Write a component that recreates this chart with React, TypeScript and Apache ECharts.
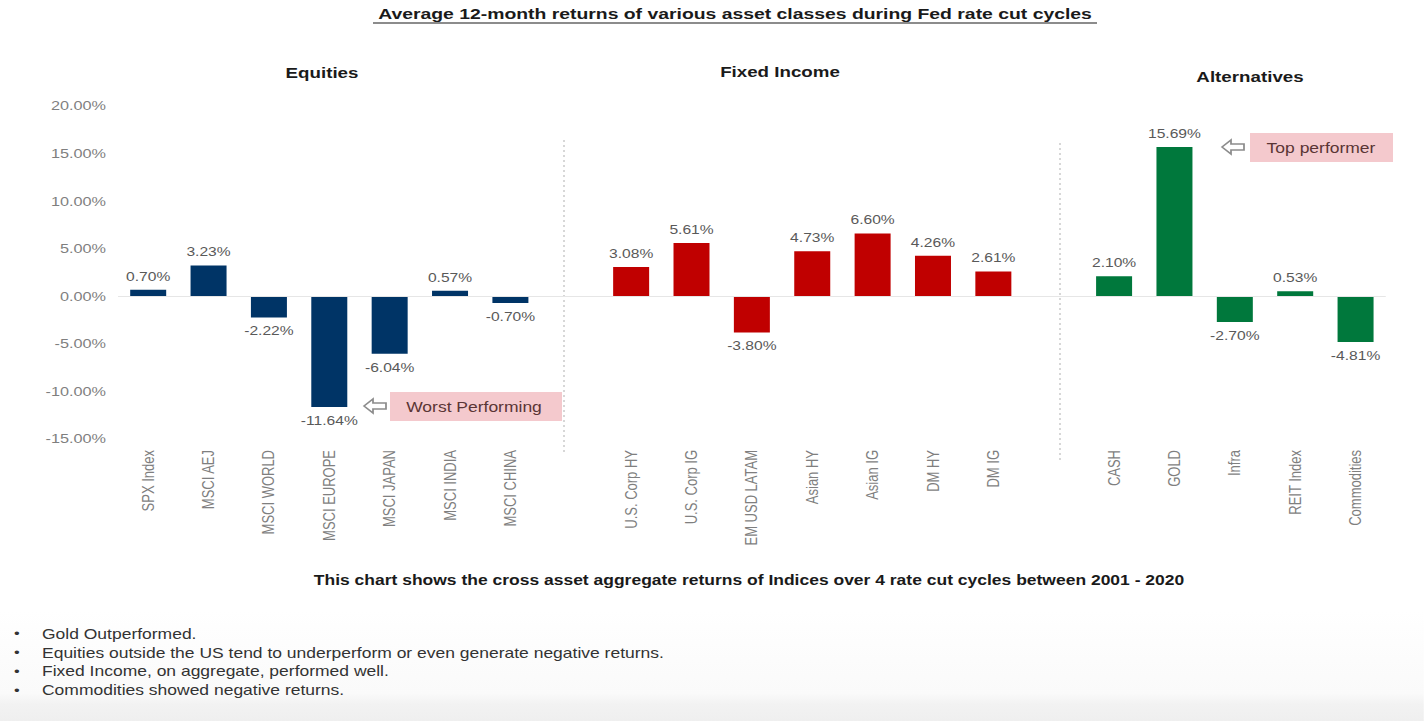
import React, { useEffect, useRef } from "react";
import * as echarts from "echarts";

const equityCats = ["SPX Index", "MSCI AEJ", "MSCI WORLD", "MSCI EUROPE", "MSCI JAPAN", "MSCI INDIA", "MSCI CHINA"];
const equityVals = [0.7, 3.23, -2.22, -11.64, -6.04, 0.57, -0.7];
const fixedCats = ["U.S. Corp HY", "U.S. Corp IG", "EM USD LATAM", "Asian HY", "Asian IG", "DM HY", "DM IG"];
const fixedVals = [3.08, 5.61, -3.8, 4.73, 6.6, 4.26, 2.61];
const altCats = ["CASH", "GOLD", "Infra", "REIT Index", "Commodities"];
const altVals = [2.1, 15.69, -2.7, 0.53, -4.81];

const groupNames = ["Equities", "Fixed Income", "Alternatives"];
const groupColors = ["#003466", "#c00000", "#00783c"];
const yTicks = { min: -15, max: 20, interval: 5 };

const title = "Average 12-month returns of various asset classes during Fed rate cut cycles";
const caption = "This chart shows the cross asset aggregate returns of Indices over 4 rate cut cycles between 2001 - 2020";
const bullets = [
  "Gold Outperformed.",
  "Equities outside the US tend to underperform or even generate negative returns.",
  "Fixed Income, on aggregate, performed well.",
  "Commodities showed negative returns.",
];
const notes = ["Worst Performing", "Top performer"];

const FONT = "'Liberation Sans', Arial, sans-serif";
// the reference picture is stretched horizontally; draw narrower and stretch with CSS
const S = 1.25;
const W = 1424 / S;
const X = (v: number) => v / S;

export default function App() {
  const ref = useRef<HTMLDivElement>(null);
  useEffect(() => {
    if (!ref.current) return;
    const chart = echarts.init(ref.current, undefined, { renderer: "svg" });

    const groups = [
      { cats: equityCats, vals: equityVals, color: groupColors[0] },
      { cats: fixedCats, vals: fixedVals, color: groupColors[1] },
      { cats: altCats, vals: altVals, color: groupColors[2] },
    ];
    const categories: string[] = [];
    const data: any[] = [];
    groups.forEach((g, gi) => {
      if (gi > 0) {
        categories.push(" ".repeat(gi));
        data.push("-");
      }
      g.cats.forEach((c, i) => {
        categories.push(c);
        const v = g.vals[i];
        data.push({
          value: v,
          itemStyle: { color: g.color },
          label: { position: v >= 0 ? "top" : "bottom" },
        });
      });
    });

    const arrow = (x: number, y: number) => ({
      type: "polygon",
      shape: {
        points: [
          [X(x), y],
          [X(x + 9), y - 7],
          [X(x + 9), y - 3],
          [X(x + 22), y - 3],
          [X(x + 22), y + 3],
          [X(x + 9), y + 3],
          [X(x + 9), y + 7],
        ],
      },
      style: { fill: "#ffffff", stroke: "#8c8c8c", lineWidth: 1.4 },
    });

    const divider = (x: number, y1: number, y2: number) => ({
      type: "line",
      shape: { x1: X(x), y1, x2: X(x), y2 },
      style: { stroke: "#bfbfbf", lineWidth: 1, lineDash: [2, 3] },
    });

    const option: any = {
      animation: false,
      backgroundColor: "#ffffff",
      textStyle: { fontFamily: FONT },
      grid: { left: X(118), right: X(38), top: 106, bottom: 282, containLabel: false },
      xAxis: {
        type: "category",
        data: categories,
        axisLine: { show: false },
        axisTick: { show: false },
        axisLabel: { rotate: 90, color: "#7f7f7f", fontSize: 13, margin: 11, interval: 0, fontFamily: FONT },
      },
      yAxis: {
        type: "value",
        min: yTicks.min,
        max: yTicks.max,
        interval: yTicks.interval,
        splitLine: { show: false },
        axisLine: { show: false },
        axisTick: { show: false },
        axisLabel: {
          color: "#7f7f7f",
          fontSize: 13,
          margin: X(12),
          fontFamily: FONT,
          formatter: (v: number) => v.toFixed(2) + "%",
        },
      },
      series: [
        {
          type: "bar",
          data,
          barWidth: X(36),
          label: {
            show: true,
            color: "#595959",
            fontSize: 12.5,
            distance: 7,
            fontFamily: FONT,
            formatter: (p: any) => Number(p.value).toFixed(2) + "%",
          },
          markLine: {
            silent: true,
            symbol: "none",
            label: { show: false },
            data: [{ yAxis: 0, lineStyle: { color: "#e6e6e6", type: "solid", width: 1 } }],
          },
        },
      ],
      graphic: [
        {
          type: "rect",
          shape: { x: 0, y: 610, width: W, height: 111 },
          style: {
            fill: new echarts.graphic.LinearGradient(0, 0, 0, 1, [
              { offset: 0, color: "#ffffff" },
              { offset: 0.75, color: "#fafafa" },
              { offset: 0.85, color: "#f2f2f2" },
              { offset: 1, color: "#efefef" },
            ]),
          },
          z: -10,
        },
        divider(564, 140, 453),
        divider(1060, 143, 460),
        {
          type: "text",
          x: X(735),
          y: 14,
          style: { text: title, font: `bold 15.5px ${FONT}`, fill: "#1a1a1a", align: "center", verticalAlign: "middle" },
        },
        { type: "line", shape: { x1: X(373), y1: 23, x2: X(1097), y2: 23 }, style: { stroke: "#1a1a1a", lineWidth: 1.2 } },
        {
          type: "text",
          x: X(322),
          y: 73,
          style: { text: groupNames[0], font: `bold 15px ${FONT}`, fill: "#1a1a1a", align: "center", verticalAlign: "middle" },
        },
        {
          type: "text",
          x: X(780),
          y: 72,
          style: { text: groupNames[1], font: `bold 15px ${FONT}`, fill: "#1a1a1a", align: "center", verticalAlign: "middle" },
        },
        {
          type: "text",
          x: X(1250),
          y: 77,
          style: { text: groupNames[2], font: `bold 15px ${FONT}`, fill: "#1a1a1a", align: "center", verticalAlign: "middle" },
        },
        { type: "rect", shape: { x: X(390), y: 392, width: X(172), height: 29 }, style: { fill: "#f4c9cd" } },
        {
          type: "text",
          x: X(474),
          y: 407,
          style: { text: notes[0], font: `14px ${FONT}`, fill: "#5a3535", align: "center", verticalAlign: "middle" },
        },
        arrow(364, 406),
        { type: "rect", shape: { x: X(1250), y: 133, width: X(143), height: 29 }, style: { fill: "#f4c9cd" } },
        {
          type: "text",
          x: X(1321),
          y: 148,
          style: { text: notes[1], font: `14px ${FONT}`, fill: "#5a3535", align: "center", verticalAlign: "middle" },
        },
        arrow(1222, 147),
        {
          type: "text",
          x: X(749),
          y: 580,
          style: { text: caption, font: `bold 14px ${FONT}`, fill: "#1a1a1a", align: "center", verticalAlign: "middle" },
        },
        ...bullets.flatMap((b, i) => [
          {
            type: "text",
            x: X(14),
            y: 634 + i * 18.7,
            style: { text: "•", font: `13px ${FONT}`, fill: "#333333", align: "left", verticalAlign: "middle" },
          },
          {
            type: "text",
            x: X(42),
            y: 634 + i * 18.7,
            style: { text: b, font: `14px ${FONT}`, fill: "#333333", align: "left", verticalAlign: "middle" },
          },
        ]),
      ],
    };
    chart.setOption(option);
    return () => chart.dispose();
  }, []);
  return (
    <div style={{ position: "absolute", left: 0, top: 0, width: 1424, height: 721, overflow: "hidden", background: "#ffffff" }}>
      <div
        ref={ref}
        style={{ width: W, height: 721, transform: `scaleX(${S})`, transformOrigin: "0 0" }}
      />
    </div>
  );
}
